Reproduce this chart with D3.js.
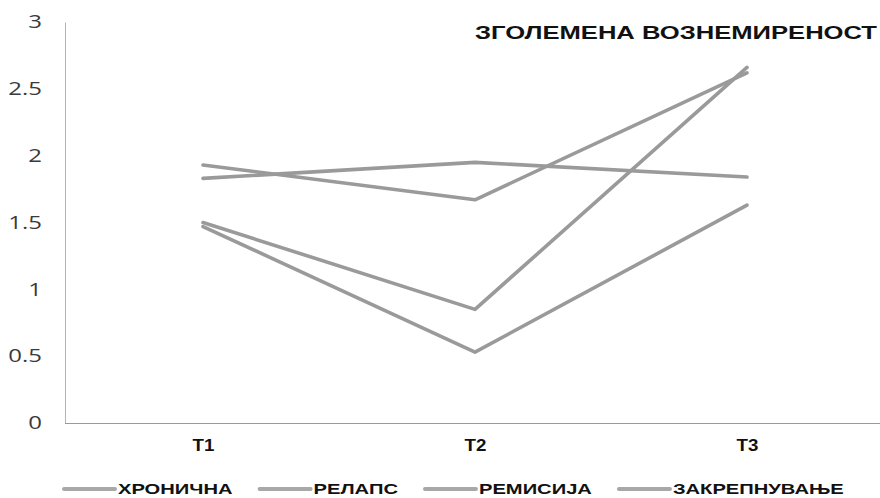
<!DOCTYPE html>
<html>
<head>
<meta charset="utf-8">
<script src="https://cdn.jsdelivr.net/npm/d3@7"></script>
<style>
  html, body { margin: 0; padding: 0; background: #fff; }
  svg { display: block; }
</style>
</head>
<body>
<svg id="chart" width="880" height="498"></svg>
<script>
// Data
const categories = ["T1", "T2", "T3"];
const seriesNames = ["ХРОНИЧНА", "РЕЛАПС", "РЕМИСИЈА", "ЗАКРЕПНУВАЊЕ"];
const hronicna = [1.93, 1.67, 2.62];
const relaps = [1.83, 1.95, 1.84];
const remisija = [1.50, 0.85, 2.66];
const zakrepnuvanje = [1.47, 0.53, 1.63];
const yTicks = [0, 0.5, 1, 1.5, 2, 2.5, 3];
const title = "ЗГОЛЕМЕНА ВОЗНЕМИРЕНОСТ";

const series = [hronicna, relaps, remisija, zakrepnuvanje].map((values, i) => ({
  name: seriesNames[i],
  values: values
}));

// Layout
const plot = { left: 65, right: 880, top: 22, bottom: 423 };
const lineColor = "#9a9a9a";
const textStretch = 1.3; // glyphs are drawn wide

const svg = d3.select("#chart");

const x = d3.scalePoint()
  .domain(categories)
  .range([plot.left + 2, plot.right + 3])
  .padding(0.5);

const y = d3.scaleLinear()
  .domain([0, 3])
  .range([plot.bottom, plot.top]);

// Widen each text horizontally; returns nothing, stores the new width on the node
function widen(sel, k) {
  sel.each(function () {
    const len = this.getComputedTextLength();
    this.__wideLen = len * k;
    d3.select(this).attr("textLength", len * k).attr("lengthAdjust", "spacingAndGlyphs");
  });
}

// Y axis
const yAxis = svg.append("g")
  .attr("transform", `translate(${plot.left},0)`)
  .call(d3.axisLeft(y).tickValues(yTicks).tickSize(0).tickPadding(23).tickFormat(d3.format("")));
yAxis.select(".domain")
  .attr("stroke", "#b4b4b4")
  .attr("stroke-width", 1);
yAxis.selectAll(".tick text")
  .attr("fill", "#3a3a3a")
  .style("font-family", "'Open Sans', sans-serif")
  .style("font-size", "18px")
  .call(widen, 1.33);

// X axis
const xAxis = svg.append("g")
  .attr("transform", `translate(0,${plot.bottom})`)
  .call(d3.axisBottom(x).tickSize(0).tickPadding(16));
xAxis.select(".domain")
  .attr("d", `M${plot.left},0.5H${plot.right}`)
  .attr("stroke", "#9a9a9a")
  .attr("stroke-width", 1.2);
xAxis.selectAll(".tick text")
  .attr("fill", "#111")
  .style("font-family", "'Liberation Sans', Arial, sans-serif")
  .style("font-weight", "bold")
  .style("font-size", "17px")
  .call(widen, 1.1);

// Lines
const line = d3.line()
  .x((d, i) => x(categories[i]))
  .y(d => y(d));

svg.append("g")
  .selectAll("path")
  .data(series)
  .join("path")
  .attr("d", d => line(d.values))
  .attr("fill", "none")
  .attr("stroke", lineColor)
  .attr("stroke-width", 3.6)
  .attr("stroke-linejoin", "round")
  .attr("stroke-linecap", "round");

// Title
svg.append("text")
  .attr("x", 877)
  .attr("y", 39)
  .attr("text-anchor", "end")
  .attr("fill", "#111")
  .style("font-family", "'Liberation Sans', Arial, sans-serif")
  .style("font-weight", "bold")
  .style("font-size", "19px")
  .text(title)
  .attr("textLength", 402)
  .attr("lengthAdjust", "spacingAndGlyphs");

// Legend
const legend = svg.append("g").attr("transform", "translate(62,0)");
let cursor = 0;
series.forEach(s => {
  const g = legend.append("g").attr("transform", `translate(${cursor},0)`);
  g.append("line")
    .attr("x1", 2).attr("x2", 53)
    .attr("y1", 489).attr("y2", 489)
    .attr("stroke", "#a8a8a8")
    .attr("stroke-width", 4)
    .attr("stroke-linecap", "round");
  const t = g.append("text")
    .attr("x", 56)
    .attr("y", 494)
    .attr("fill", "#111")
    .style("font-family", "'Liberation Sans', Arial, sans-serif")
    .style("font-weight", "bold")
    .style("font-size", "15.5px")
    .text(s.name);
  t.call(widen, textStretch);
  cursor += 56 + t.node().__wideLen + 25;
});
</script>
</body>
</html>
